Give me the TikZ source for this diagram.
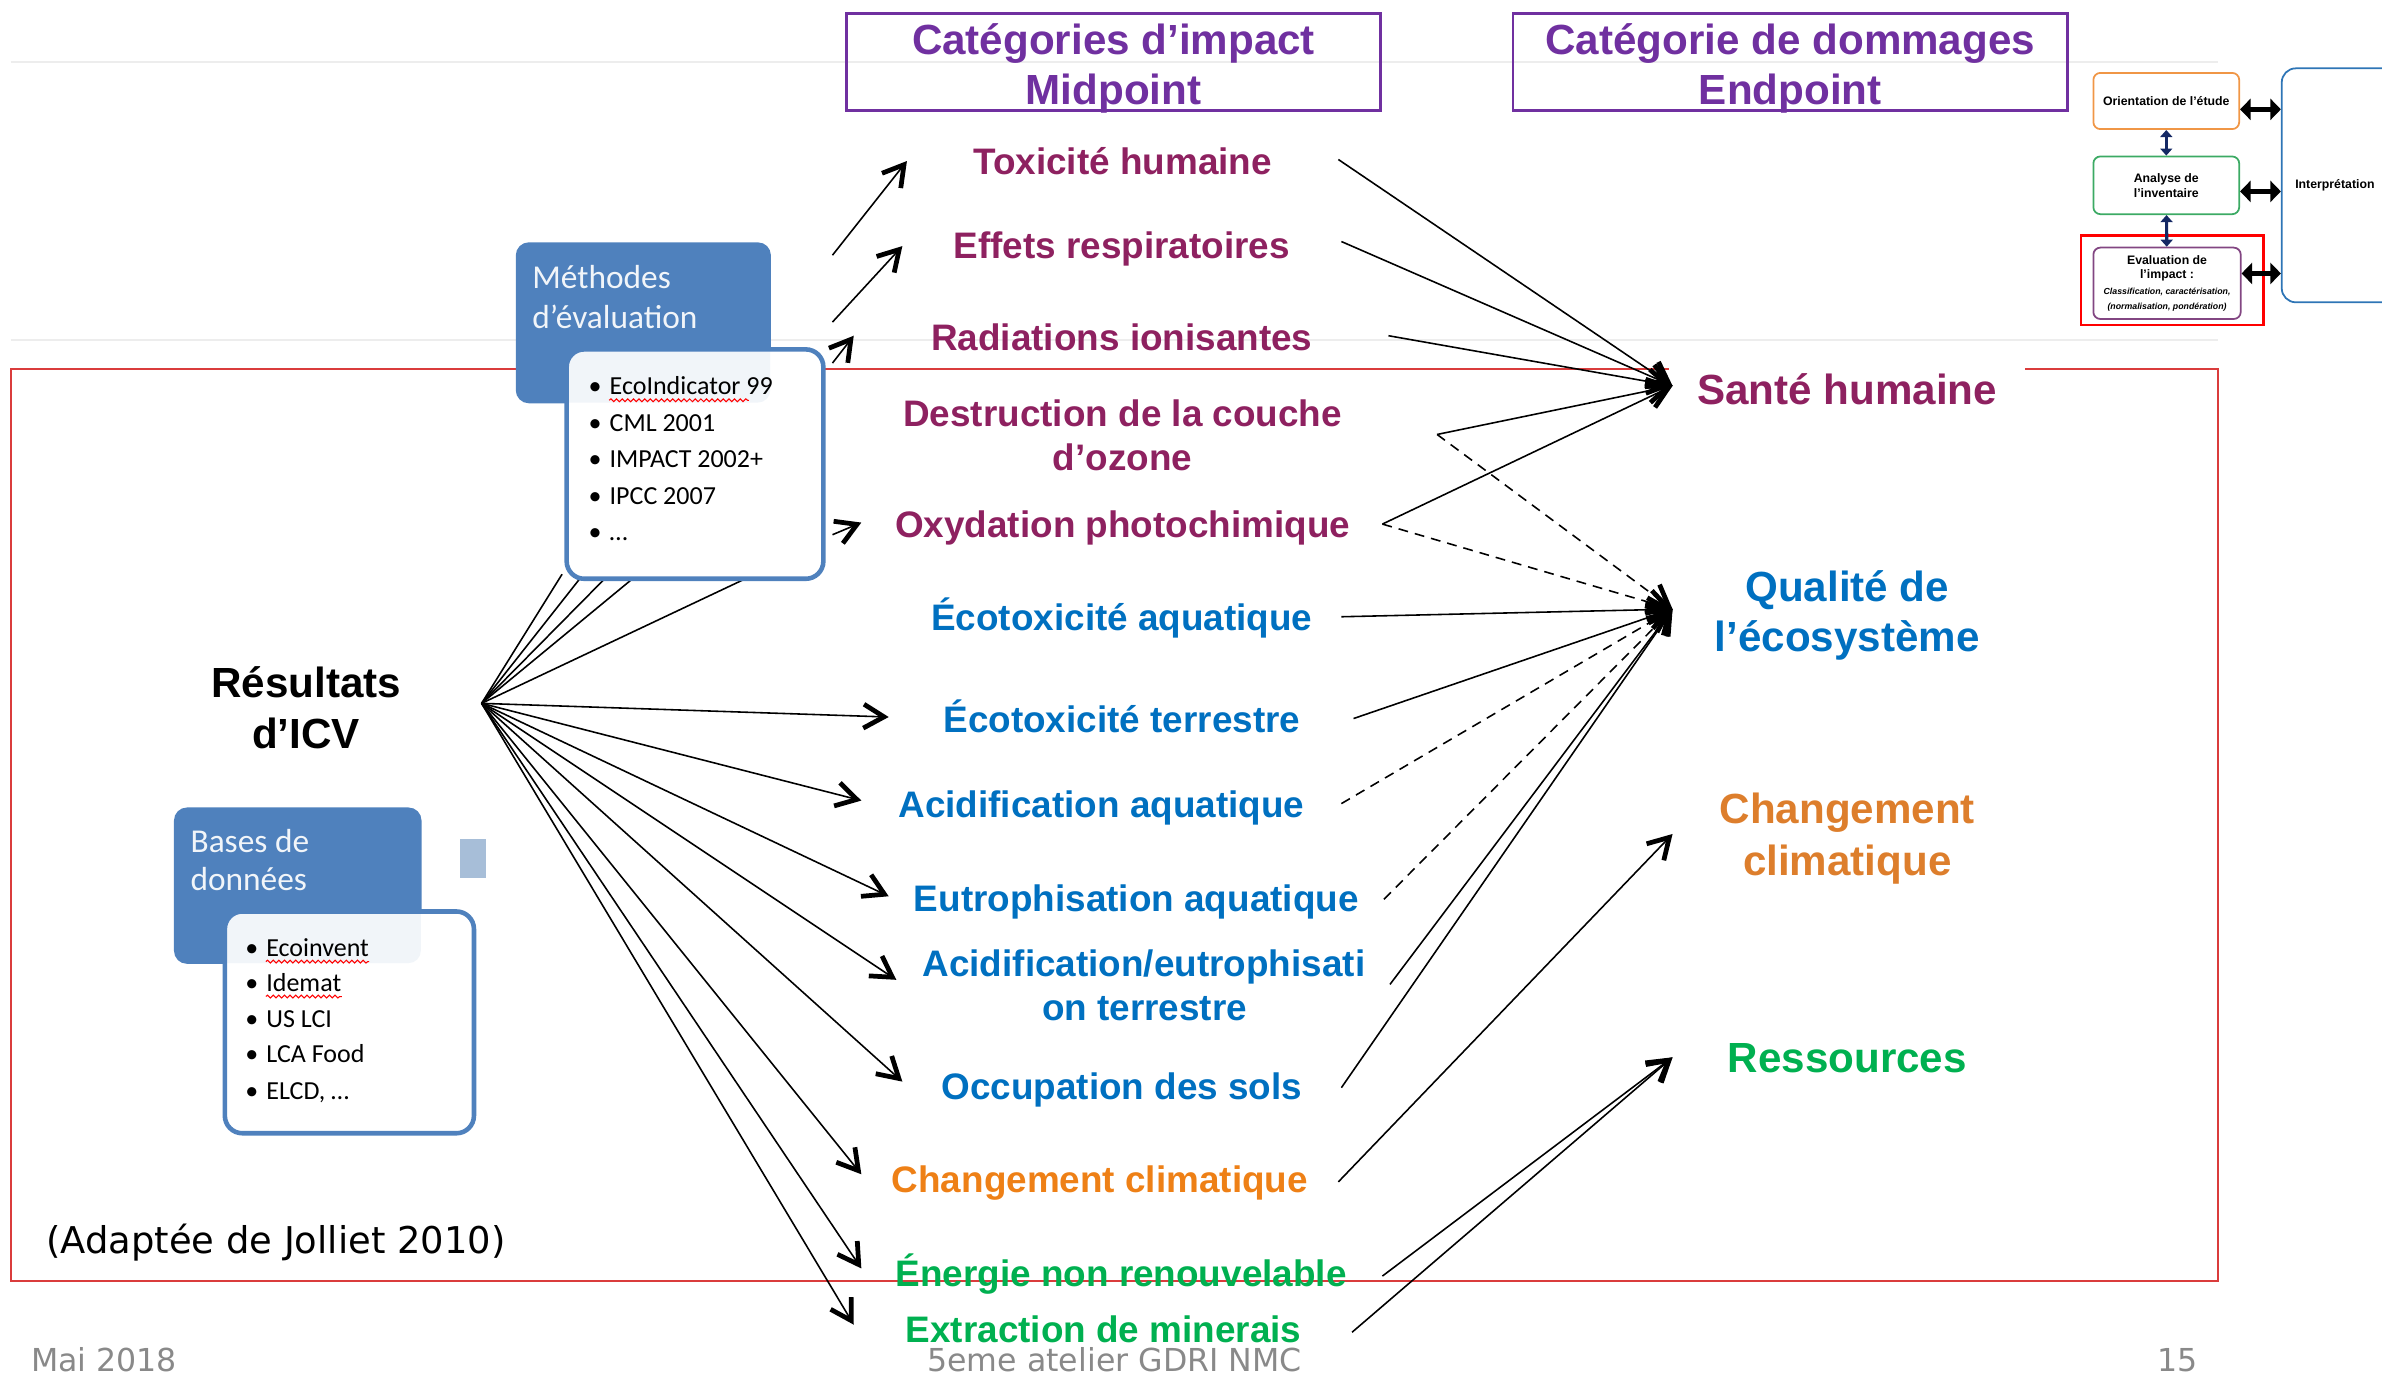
\documentclass[tikz,border=0pt]{standalone}
\usepackage{fontspec}
\setmainfont{Liberation Sans}
\newfontfamily\calfont{Carlito}
\newfontfamily\dejafont{DejaVu Sans}
\usetikzlibrary{arrows.meta,decorations.pathmorphing}

\definecolor{impactred}{RGB}{142,33,96}
\definecolor{ecoblue}{RGB}{0,112,192}
\definecolor{climorange}{RGB}{238,128,22}
\definecolor{climend}{RGB}{221,126,44}
\definecolor{resgreen}{RGB}{0,176,80}
\definecolor{headpurple}{RGB}{112,48,160}
\definecolor{boxblue}{RGB}{79,129,189}
\definecolor{framered}{RGB}{218,60,60}
\definecolor{footgray}{RGB}{137,137,137}
\definecolor{sqblue}{RGB}{167,190,216}
\definecolor{orientorange}{RGB}{240,150,70}
\definecolor{analysegreen}{RGB}{60,170,100}
\definecolor{evalpurple}{RGB}{130,70,130}
\definecolor{interpblue}{RGB}{46,117,182}
\definecolor{navy}{RGB}{20,40,100}

\newcommand{\pxu}{0.015191cm}
\newcommand{\listdot}{\makebox[6pt][l]{\textbullet}}

\tikzset{
  cat/.style={anchor=base, inner sep=0pt, font=\fontsize{10.5}{12}\selectfont\bfseries},
  dmg/.style={anchor=base, inner sep=0pt, font=\fontsize{12}{14}\selectfont\bfseries},
  headbox/.style={draw=headpurple, line width=0.8pt, inner sep=0pt},
  bluebox/.style={fill=boxblue, draw=boxblue, rounded corners=3.5pt, inner sep=0pt},
  listbox/.style={fill=white, draw=boxblue, line width=1.3pt, rounded corners=5pt, inner sep=0pt},
  boxtitle/.style={anchor=base west, inner sep=0pt, text=white, font=\calfont\fontsize{9.5}{11}\selectfont},
  listitem/.style={anchor=base west, inner sep=0pt, font=\calfont\fontsize{7.4}{8}\selectfont},
  sidenote/.style={anchor=base west, inner sep=0pt, font=\dejafont\fontsize{10.5}{12}\selectfont},
  foot/.style={inner sep=0pt, text=footgray, font=\dejafont\fontsize{9}{10}\selectfont},
  link/.style={line width=0.45pt},
  toarrow/.style={link, -{Straight Barb[length=5.8pt,width=6.8pt,line width=1.35pt]}},
  dashlink/.style={toarrow, dash pattern=on 2.8pt off 2pt},
  mini/.style={draw, line width=0.5pt, rounded corners=2pt, align=center, inner sep=0pt, font=\fontsize{3.5}{4.2}\selectfont\bfseries},
  dbl/.style={line width=1.5pt, {Triangle[length=3pt,width=6pt]}-{Triangle[length=3pt,width=6pt]}},
  vdbl/.style={draw=navy, line width=0.9pt, {Triangle[length=2pt,width=3.4pt]}-{Triangle[length=2pt,width=3.4pt]}},
  squiggle/.style={draw=red, line width=0.3pt, decorate, decoration={snake, amplitude=0.4pt, segment length=1.6pt}},
}

\begin{document}
\begin{tikzpicture}[x=0.015191cm, y=-0.015191cm]
  \path[use as bounding box] (0,0) rectangle (1568,906);
  \clip (0,0) rectangle (1568,906);

  % slide guides and frame
  \draw[black!7, line width=0.5pt] (7,41) -- (1460,41) (7,224) -- (1460,224);
  \draw[framered, line width=0.6pt] (7,243) rectangle (1460,843);

  % arrow ends
  \coordinate (icv) at (317,463);
  \coordinate (hid1) at (370,378);
  \coordinate (hid2) at (384,378);
  \coordinate (hid3) at (401,378);
  \coordinate (hid4) at (420,378);
  \coordinate (hid5) at (497,378);
  \coordinate (m-tox) at (548,168);
  \coordinate (m-resp) at (548,212);
  \coordinate (m-rad) at (548,239);
  \coordinate (m-oxy) at (548,352);
  \coordinate (tox-in) at (597,106);
  \coordinate (resp-in) at (594,162);
  \coordinate (rad-in) at (562,221);
  \coordinate (oxy-in) at (567,344);
  \coordinate (ecoter-in) at (585,472);
  \coordinate (acidaq-in) at (567,527);
  \coordinate (eutro-in) at (585,590);
  \coordinate (acter-in) at (590,645);
  \coordinate (sols-in) at (594,712);
  \coordinate (clim-in) at (567,773);
  \coordinate (energ-in) at (567,835);
  \coordinate (miner-in) at (562,872);
  \coordinate (tox-out) at (881,105);
  \coordinate (resp-out) at (883,159);
  \coordinate (rad-out) at (914,221);
  \coordinate (ozo-out) at (946,286);
  \coordinate (oxy-out) at (910,345);
  \coordinate (ecoaq-out) at (883,406);
  \coordinate (ecoter-out) at (891,473);
  \coordinate (acidaq-out) at (883,529);
  \coordinate (eutro-out) at (911,592);
  \coordinate (acter-out) at (915,648);
  \coordinate (sols-out) at (883,716);
  \coordinate (clim-out) at (881,778);
  \coordinate (energ-out) at (910,840);
  \coordinate (miner-out) at (890,877);
  \coordinate (sante-in) at (1101,254);
  \coordinate (qual-in) at (1101,401);
  \coordinate (climend-in) at (1101,549);
  \coordinate (ress-in) at (1101,696);

  \begin{scope}[link]
    \draw (icv) -- (hid1);
    \draw (icv) -- (hid2);
    \draw (icv) -- (hid3);
    \draw (icv) -- (hid4);
    \draw (icv) -- (hid5);
  \end{scope}

  % methods and databases
  \node[bluebox, minimum width=167*\pxu, minimum height=105*\pxu] (meth) at (423.5,212.5) {};
  \node[boxtitle] (meth1) at (350,190) {Méthodes};
  \node[boxtitle] (meth2) at (350,216) {d’évaluation};
  \node[listbox, minimum width=169*\pxu, minimum height=151*\pxu] (methlist) at (457.5,305.5) {};
  \node[bluebox, draw=none, fill opacity=0.08, minimum width=167*\pxu, minimum height=105*\pxu] (methtint) at (423.5,212.5) {};
  \node[listitem] (mt1) at (387,260) {\listdot EcoIndicator 99};
  \node[listitem] (mt2) at (387,284) {\listdot CML 2001};
  \node[listitem] (mt3) at (387,308) {\listdot IMPACT 2002+};
  \node[listitem] (mt4) at (387,332) {\listdot IPCC 2007};
  \node[listitem] (mt5) at (387,356) {\listdot …};
  \draw[squiggle] (401,263.5) -- (493,263.5);

  \node[bluebox, minimum width=162*\pxu, minimum height=102*\pxu] (base) at (196,583) {};
  \node[boxtitle] (base1) at (125,561) {Bases de};
  \node[boxtitle] (base2) at (125,586) {données};
  \node[listbox, minimum width=164*\pxu, minimum height=146*\pxu] (baselist) at (230,673) {};
  \node[bluebox, draw=none, fill opacity=0.08, minimum width=162*\pxu, minimum height=102*\pxu] (basetint) at (196,583) {};
  \node[listitem] (bt1) at (161,629.5) {\listdot Ecoinvent};
  \node[listitem] (bt2) at (161,652.5) {\listdot Idemat};
  \node[listitem] (bt3) at (161,676.5) {\listdot US LCI};
  \node[listitem] (bt4) at (161,699.5) {\listdot LCA Food};
  \node[listitem] (bt5) at (161,723.5) {\listdot ELCD, …};
  \draw[squiggle] (175,633) -- (243,633);
  \draw[squiggle] (175,656) -- (225,656);
  \node[fill=sqblue, minimum width=17*\pxu, minimum height=26*\pxu, inner sep=0pt] (sq) at (311.5,565) {};

  \node[dmg] (icv1) at (201.5,459) {Résultats};
  \node[dmg] (icv2) at (201.5,493) {d’ICV};
  \node[sidenote] (src) at (30,825) {(Adaptée de Jolliet 2010)};

  % headers
  \node[headbox, minimum width=352*\pxu, minimum height=64*\pxu] (midbox) at (733,41) {};
  \node[dmg, text=headpurple] (mid1) at (733,36) {Catégories d’impact};
  \node[dmg, text=headpurple] (mid2) at (733,69) {Midpoint};
  \node[headbox, minimum width=365*\pxu, minimum height=64*\pxu] (endbox) at (1178.5,41) {};
  \node[dmg, text=headpurple] (end1) at (1178.5,36) {Catégorie de dommages};
  \node[dmg, text=headpurple] (end2) at (1178.5,69) {Endpoint};

  % midpoint categories
  \node[cat, text=impactred] (tox) at (739,115) {Toxicité humaine};
  \node[cat, text=impactred] (resp) at (738.5,170) {Effets respiratoires};
  \node[cat, text=impactred] (rad) at (738.5,231) {Radiations ionisantes};
  \node[cat, text=impactred] (ozo1) at (739,281) {Destruction de la couche};
  \node[cat, text=impactred] (ozo2) at (739,310) {d’ozone};
  \node[cat, text=impactred] (oxy) at (739,354) {Oxydation photochimique};
  \node[cat, text=ecoblue] (ecoaq) at (738.5,415) {Écotoxicité aquatique};
  \node[cat, text=ecoblue] (ecoter) at (738.5,482) {Écotoxicité terrestre};
  \node[cat, text=ecoblue] (acidaq) at (725,538) {Acidification aquatique};
  \node[cat, text=ecoblue] (eutro) at (748,600) {Eutrophisation aquatique};
  \node[cat, text=ecoblue] (acter1) at (753,643) {Acidification/eutrophisati};
  \node[cat, text=ecoblue] (acter2) at (753.5,672) {on terrestre};
  \node[cat, text=ecoblue] (sols) at (738.5,724) {Occupation des sols};
  \node[cat, text=climorange] (clim) at (724,785) {Changement climatique};
  \node[cat, text=resgreen] (energ) at (738,847) {Énergie non renouvelable};
  \node[cat, text=resgreen] (miner) at (726.5,884) {Extraction de minerais};

  % endpoint categories
  \node[dmg, text=impactred, fill=white, inner xsep=8pt, inner ysep=1.5pt] (sante) at (1216,266) {Santé humaine};
  \node[dmg, text=ecoblue] (qual1) at (1216,396) {Qualité de};
  \node[dmg, text=ecoblue] (qual2) at (1216,429) {l’écosystème};
  \node[dmg, text=climend] (climend1) at (1216,542) {Changement};
  \node[dmg, text=climend] (climend2) at (1216,576) {climatique};
  \node[dmg, text=resgreen] (ress) at (1216,706) {Ressources};

  \begin{scope}[toarrow]
    \draw (m-tox) -- (tox-in);
    \draw (m-resp) -- (resp-in);
    \draw (m-rad) -- (rad-in);
    \draw (m-oxy) -- (oxy-in);
    \draw (icv) -- (ecoter-in);
    \draw (icv) -- (acidaq-in);
    \draw (icv) -- (eutro-in);
    \draw (icv) -- (acter-in);
    \draw (icv) -- (sols-in);
    \draw (icv) -- (clim-in);
    \draw (icv) -- (energ-in);
    \draw (icv) -- (miner-in);
    \draw (tox-out) -- (sante-in);
    \draw (resp-out) -- (sante-in);
    \draw (rad-out) -- (sante-in);
    \draw (ozo-out) -- (sante-in);
    \draw (oxy-out) -- (sante-in);
    \draw (ecoaq-out) -- (qual-in);
    \draw (ecoter-out) -- (qual-in);
    \draw (acter-out) -- (qual-in);
    \draw (sols-out) -- (qual-in);
    \draw (clim-out) -- (climend-in);
    \draw (energ-out) -- (ress-in);
    \draw (miner-out) -- (ress-in);
  \end{scope}
  \begin{scope}[dashlink]
    \draw (ozo-out) -- (qual-in);
    \draw (oxy-out) -- (qual-in);
    \draw (acidaq-out) -- (qual-in);
    \draw (eutro-out) -- (qual-in);
  \end{scope}

  % life cycle assessment steps
  \node[mini, draw=orientorange, minimum width=96*\pxu, minimum height=37*\pxu] (orient) at (1426,66.5) {Orientation de l’étude};
  \node[mini, draw=analysegreen, minimum width=96*\pxu, minimum height=38*\pxu] (analyse) at (1426,122) {Analyse de\\l’inventaire};
  \node[mini, draw=evalpurple, minimum width=97*\pxu, minimum height=47*\pxu] (evalu) at (1426.5,186.5)
    {Evaluation de\\l’impact :\\[0.3pt]{\fontsize{2.5}{3.4}\selectfont\itshape Classification, caractérisation,}\\{\fontsize{2.5}{3.4}\selectfont\itshape (normalisation, pondération)}};
  \node[draw=red, line width=0.6pt, minimum width=120*\pxu, minimum height=59*\pxu, inner sep=0pt] (evalframe) at (1430,184.5) {};
  \node[mini, draw=interpblue, rounded corners=4pt, minimum width=98*\pxu, minimum height=154*\pxu] (interp) at (1551,122) {};
  \node[mini, draw=none] (interptext) at (1537,122) {Interprétation};
  \draw[dbl] (orient.east |- 0,72) -- (interp.west |- 0,72);
  \draw[dbl] (analyse.east |- 0,126) -- (interp.west |- 0,126);
  \draw[dbl] (evalu.east |- 0,180) -- (interp.west |- 0,180);
  \draw[vdbl] (orient) -- (analyse);
  \draw[vdbl] (analyse) -- (evalu);

  % footer
  \node[foot, anchor=base west] (date) at (20,903) {Mai 2018};
  \node[foot, anchor=base west] (event) at (610,903) {5eme atelier GDRI NMC};
  \node[foot, anchor=base east] (page) at (1447,903) {15};
\end{tikzpicture}
\end{document}
